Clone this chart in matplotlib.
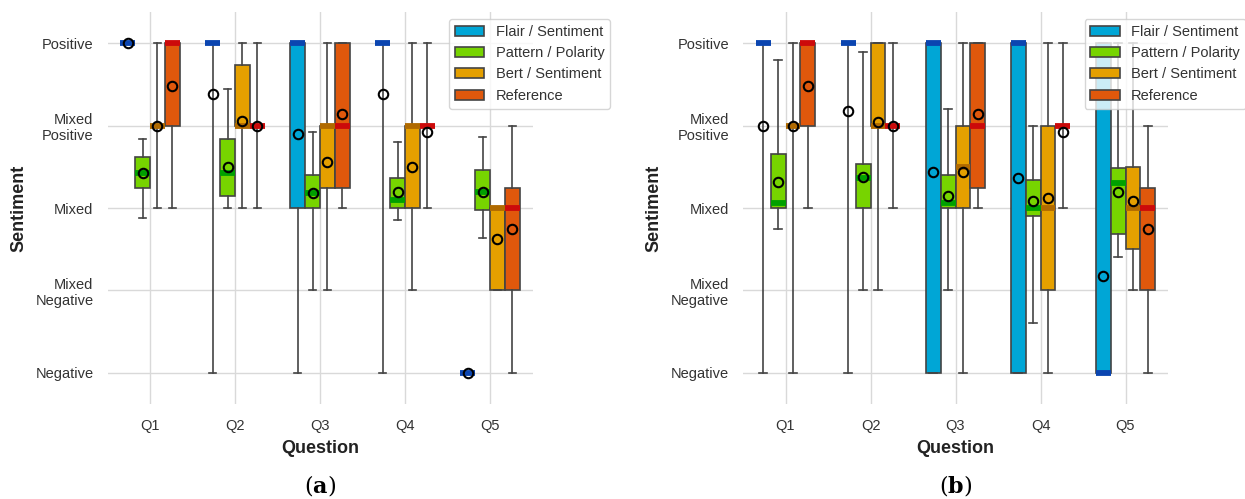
import numpy as np
import matplotlib
matplotlib.use('Agg')
import matplotlib.pyplot as plt
from matplotlib.patches import Patch

plt.rcParams['font.family'] = ['Liberation Sans', 'DejaVu Sans']
plt.rcParams['mathtext.fontset'] = 'dejavuserif'

# === Data ===
questions = ['Q1', 'Q2', 'Q3', 'Q4', 'Q5']
sentiment_ticks = [-1, -0.5, 0, 0.5, 1]
sentiment_labels = ['Negative', 'Mixed\nNegative', 'Mixed', 'Mixed\nPositive', 'Positive']
models = ['Flair / Sentiment', 'Pattern / Polarity', 'Bert / Sentiment', 'Reference']

# one row per question: (whisker low, Q1, median, Q3, whisker high, mean)
flair_a = [(1, 1, 1, 1, 1, 1.0),
           (-1, 1, 1, 1, 1, 0.69),
           (-1, 0, 1, 1, 1, 0.45),
           (-1, 1, 1, 1, 1, 0.69),
           (-1, -1, -1, -1, -1, -1.0)]
pattern_a = [(-0.06, 0.12, 0.21, 0.31, 0.42, 0.21),
             (0.0, 0.07, 0.21, 0.42, 0.72, 0.25),
             (-0.5, 0.0, 0.09, 0.20, 0.46, 0.09),
             (-0.07, 0.0, 0.05, 0.18, 0.40, 0.10),
             (-0.18, -0.01, 0.10, 0.23, 0.43, 0.10)]
bert_a = [(0, 0.5, 0.5, 0.5, 1, 0.5),
          (0, 0.5, 0.5, 0.87, 1, 0.53),
          (-0.5, 0.12, 0.5, 0.5, 1, 0.28),
          (-0.5, 0, 0.5, 0.5, 1, 0.25),
          (-0.5, -0.5, 0.0, 0.0, 0.0, -0.19)]
reference_a = [(0, 0.5, 1, 1, 1, 0.74),
               (0, 0.5, 0.5, 0.5, 1, 0.5),
               (0, 0.12, 0.5, 1, 1, 0.57),
               (0, 0.5, 0.5, 0.5, 1, 0.46),
               (-1, -0.5, 0, 0.12, 0.5, -0.13)]

flair_b = [(-1, 1, 1, 1, 1, 0.5),
           (-1, 1, 1, 1, 1, 0.59),
           (-1, -1, 1, 1, 1, 0.22),
           (-1, -1, 1, 1, 1, 0.18),
           (-1, -1, -1, 1, 1, -0.41)]
pattern_b = [(-0.13, 0, 0.03, 0.33, 0.9, 0.16),
             (-0.5, 0, 0.18, 0.27, 0.95, 0.19),
             (-0.5, 0, 0.03, 0.2, 0.6, 0.07),
             (-0.7, -0.05, 0, 0.17, 0.5, 0.04),
             (-0.3, -0.16, 0.15, 0.24, 1, 0.1)]
bert_b = [(-1, 0.5, 0.5, 0.5, 1, 0.5),
          (-0.5, 0.5, 0.5, 1, 1, 0.52),
          (-1, 0, 0.25, 0.5, 1, 0.22),
          (-1, -0.5, 0, 0.5, 1, 0.06),
          (-0.5, -0.25, 0, 0.25, 1, 0.04)]
reference_b = reference_a

box_colors = ['#00a6d6', '#77d400', '#e5a000', '#e0580c']
median_colors = ['#0b45b0', '#00a000', '#b06a00', '#cc0a0a']
edge = '#444444'

offsets = [-0.2625, -0.0875, 0.0875, 0.2625]
box_w = 0.175


def draw_panel(ax, series):
    for k, rows in enumerate(series):
        stats = [dict(whislo=r[0], q1=r[1], med=r[2], q3=r[3], whishi=r[4],
                      mean=r[5], fliers=[]) for r in rows]
        pos = np.arange(len(questions)) + offsets[k]
        ax.bxp(stats, positions=pos, widths=box_w, patch_artist=True,
               showmeans=True, showfliers=False, manage_ticks=False,
               boxprops=dict(facecolor=box_colors[k], edgecolor=edge, linewidth=1.2),
               medianprops=dict(color=median_colors[k], linewidth=4.2, solid_capstyle='butt'),
               whiskerprops=dict(color=edge, linewidth=1.2),
               capprops=dict(color=edge, linewidth=1.2),
               meanprops=dict(marker='o', markerfacecolor='none', markeredgecolor='black',
                              markersize=6.8, markeredgewidth=1.5))

    ax.set_xlim(-0.5, len(questions) - 0.5)
    ax.set_ylim(-1.19, 1.19)
    ax.set_xticks(np.arange(len(questions)))
    ax.set_xticklabels(questions)
    ax.set_yticks(sentiment_ticks)
    ax.set_yticklabels(sentiment_labels)
    ax.grid(True, color='#d9d9d9', linewidth=1)
    ax.set_axisbelow(True)
    for s in ax.spines.values():
        s.set_visible(False)
    ax.tick_params(axis='both', length=0, labelsize=10.5, labelcolor='#333333')
    ax.tick_params(axis='x', pad=10.5)
    ax.tick_params(axis='y', pad=10)
    ax.set_xlabel('Question', fontsize=13, fontweight='bold', color='#222222', labelpad=5)
    ax.set_ylabel('Sentiment', fontsize=13, fontweight='bold', color='#222222', labelpad=6)

    handles = [Patch(facecolor=c, edgecolor=edge, linewidth=1.2) for c in box_colors]
    leg = ax.legend(handles, models, loc='upper right', bbox_to_anchor=(1.183, 0.982),
                    borderaxespad=0, fontsize=10.5, framealpha=0.8)
    for t in leg.get_texts():
        t.set_color('#333333')


fig = plt.figure(figsize=(12.45, 4.99), dpi=100)
ax_a = fig.add_axes([107.5 / 1245, 95 / 499, 425 / 1245, 392 / 499])
ax_b = fig.add_axes([743 / 1245, 95 / 499, 425 / 1245, 392 / 499])

draw_panel(ax_a, [flair_a, pattern_a, bert_a, reference_a])
draw_panel(ax_b, [flair_b, pattern_b, bert_b, reference_b])

# panel captions
fig.text(320 / 1245, 1 - 486 / 499, r'($\mathbf{a}$)', ha='center', va='center',
         fontsize=16, family='DejaVu Serif')
fig.text(955.5 / 1245, 1 - 486 / 499, r'($\mathbf{b}$)', ha='center', va='center',
         fontsize=16, family='DejaVu Serif')

fig.savefig('out.png', dpi=100)
